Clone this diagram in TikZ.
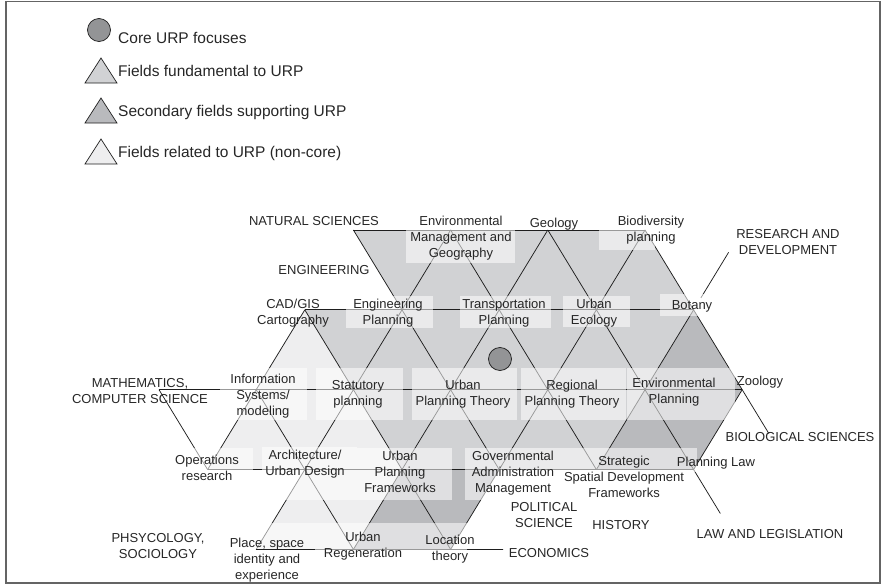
\documentclass[tikz,border=0pt]{standalone}
\usepackage{fontspec}
\setmainfont{Liberation Sans}
\usetikzlibrary{calc}
\definecolor{fundc}{RGB}{209,210,212}
\definecolor{secc}{RGB}{185,186,189}
\definecolor{nonc}{RGB}{238,238,239}
\definecolor{corec}{RGB}{147,148,150}
\definecolor{linec}{RGB}{30,30,30}
\definecolor{framec}{RGB}{100,100,100}
\begin{document}
\begin{tikzpicture}[x=1pt,y=-1pt,
  edge/.style={draw=linec, line width=0.75pt},
  labbox/.style={fill=white, fill opacity=0.55},
  lab/.style={inner sep=0pt, anchor=north, align=center, text=black!85,
    font=\fontsize{13}{16}\selectfont},
  leg/.style={inner sep=0pt, anchor=base west, text=black!85,
    font=\fontsize{15.5}{18}\selectfont},
  legshape/.style={draw=linec, line width=0.7pt}]
\useasboundingbox (0,0) rectangle (881,584);
\draw[framec, line width=1.2pt] (6,1.5) rectangle (880,583);
% lattice
\foreach \r in {0,...,4}{
  \foreach \j in {0,...,13}{
    \coordinate (v\r-\j) at ({159+48.6*\j},{230+79.85*\r});
  }
}
% fills
\fill[fundc] (v0-4) -- (v0-10) -- (v1-11) -- (v1-5) -- cycle;
\fill[fundc] (v1-3) -- (v1-11) -- (v2-10) -- (v2-4) -- cycle;
\fill[nonc] (v1-3) -- (v2-2) -- (v2-4) -- cycle;
\fill[secc] (v1-11) -- (v2-10) -- (v2-12) -- cycle;
\fill[nonc] (v2-2) -- (v2-4) -- (v3-5) -- (v3-1) -- cycle;
\fill[fundc] (v2-4) -- (v2-10) -- (v3-9) -- (v3-5) -- cycle;
\fill[secc] (v2-10) -- (v2-12) -- (v3-11) -- (v3-9) -- cycle;
\fill[nonc] (v3-3) -- (v3-5) -- (v4-4) -- (v4-2) -- cycle;
\fill[secc] (v3-5) -- (v3-7) -- (v4-6) -- (v4-4) -- cycle;
% free ends
\coordinate (econend) at (503,549.4);
\coordinate (lawend) at ($(v3-11)!0.55!(v4-12)$);
\coordinate (bioend) at ($(v2-12)!0.55!(v3-13)$);
\coordinate (rdA) at ($(v1-11)!0.15!(v0-12)$);
\coordinate (rdB) at ($(v1-11)!0.72!(v0-12)$);
% horizontals
\draw[edge] (v0-4) -- (v0-10);
\draw[edge] (v1-3) -- (v1-11);
\draw[edge] (v2-0) -- (v2-12);
\draw[edge] (v3-1) -- (v3-11);
\draw[edge] (v4-2) -- (v4-6) -- (econend);
% down-right diagonals
\draw[edge] (v0-4) -- (v3-7);
\draw[edge] (v1-3) -- (v4-6);
\draw[edge] (v0-6) -- (v3-9);
\draw[edge] (v0-8) -- (v3-11) -- (lawend);
\draw[edge] (v0-10) -- (v2-12) -- (bioend);
\draw[edge] (v2-2) -- (v4-4);
\draw[edge] (v2-0) -- (v3-1);
% down-left diagonals
\draw[edge] (v0-6) -- (v4-2);
\draw[edge] (v0-8) -- (v4-4);
\draw[edge] (v0-10) -- (v4-6);
\draw[edge] (v1-11) -- (v3-9);
\draw[edge] (v2-12) -- (v3-11);
\draw[edge] (v1-3) -- (v3-1);
\draw[edge] (rdA) -- (rdB);
% label boxes
\fill[labbox] (406,230) rectangle (515,263);
\fill[labbox] (599,230) rectangle (655,250);
\fill[labbox] (346,296) rectangle (433,328);
\fill[labbox] (460,296) rectangle (551,328);
\fill[labbox] (563,296) rectangle (630,327);
\fill[labbox] (660,294) rectangle (710,316);
\fill[labbox] (220,368) rectangle (307,420);
\fill[labbox] (316,368) rectangle (403,420);
\fill[labbox] (412,368) rectangle (517,420);
\fill[labbox] (521,368) rectangle (626,420);
\fill[labbox] (627,368) rectangle (735,420);
\fill[labbox] (160,448) rectangle (253,470);
\fill[labbox] (262,447) rectangle (357,500);
\fill[labbox] (357,448) rectangle (452,500);
\fill[labbox] (465,448) rectangle (562,500);
\fill[labbox] (562,448) rectangle (673,470);
\fill[labbox] (673,448) rectangle (697,472);
\fill[labbox] (315,523) rectangle (412,550);
\fill[labbox] (412,523) rectangle (467,550);
\fill[labbox] (253,523) rectangle (315,549);
% core circle
\node[circle, draw=linec, line width=0.75pt, fill=corec, minimum size=23pt, inner sep=0pt] (core) at (500,359) {};
% labels
\node[lab] (natsci) at (314,216) {NATURAL SCIENCES};
\node[lab] (envmg) at (461,216) {Environmental\\Management and\\Geography};
\node[lab] (geol) at (554,218) {Geology};
\node[lab] (biodiv) at (651,216) {Biodiversity\\planning};
\node[lab] (rd) at (788,229) {RESEARCH AND\\DEVELOPMENT};
\node[lab] (eng) at (324,265) {ENGINEERING};
\node[lab] (cad) at (293,299) {CAD/GIS\\Cartography};
\node[lab] (engpl) at (388,299) {Engineering\\Planning};
\node[lab] (trpl) at (504,299) {Transportation\\Planning};
\node[lab] (uecol) at (594,299) {Urban\\Ecology};
\node[lab] (botany) at (692,300) {Botany};
\node[lab] (math) at (140,378) {MATHEMATICS,\\COMPUTER SCIENCE};
\node[lab] (infsys) at (263,374) {Information\\Systems/\\modeling};
\node[lab] (stat) at (358,380) {Statutory\\planning};
\node[lab] (upt) at (463,380) {Urban\\Planning Theory};
\node[lab] (rpt) at (572,380) {Regional\\Planning Theory};
\node[lab] (envpl) at (674,378) {Environmental\\Planning};
\node[lab] (zool) at (760,376) {Zoology};
\node[lab] (biosci) at (800,432) {BIOLOGICAL SCIENCES};
\node[lab] (opres) at (207,455) {Operations\\research};
\node[lab] (arch) at (305,450) {Architecture/\\Urban Design};
\node[lab] (upf) at (400,451) {Urban\\Planning\\Frameworks};
\node[lab] (gov) at (513,451) {Governmental\\Administration\\Management};
\node[lab] (ssdf) at (624,456) {Strategic\\Spatial Development\\Frameworks};
\node[lab] (plaw) at (716,457) {Planning Law};
\node[lab] (lawleg) at (770,529) {LAW AND LEGISLATION};
\node[lab] (polsci) at (544,502) {POLITICAL\\SCIENCE};
\node[lab] (hist) at (621,520) {HISTORY};
\node[lab] (econ) at (549,548) {ECONOMICS};
\node[lab] (psych) at (158,533) {PHSYCOLOGY,\\SOCIOLOGY};
\node[lab] (place) at (267,538) {Place, space\\identity and\\experience};
\node[lab] (urgen) at (363,532) {Urban\\Regeneration};
\node[lab] (loc) at (450,535) {Location\\theory};
% legend
\node[circle, draw=linec, line width=0.7pt, fill=corec, minimum size=23pt, inner sep=0pt] (legcore) at (99,30) {};
\draw[legshape, fill=fundc] (85,83) -- (117,83) -- (101,58) -- cycle;
\draw[legshape, fill=secc] (85,123) -- (117,123) -- (101,98) -- cycle;
\draw[legshape, fill=nonc] (85,164) -- (117,164) -- (101,139) -- cycle;
\node[leg] (leg1) at (118,43) {Core URP focuses};
\node[leg] (leg2) at (118,76) {Fields fundamental to URP};
\node[leg] (leg3) at (118,116) {Secondary fields supporting URP};
\node[leg] (leg4) at (118,157) {Fields related to URP (non-core)};
\end{tikzpicture}
\end{document}
